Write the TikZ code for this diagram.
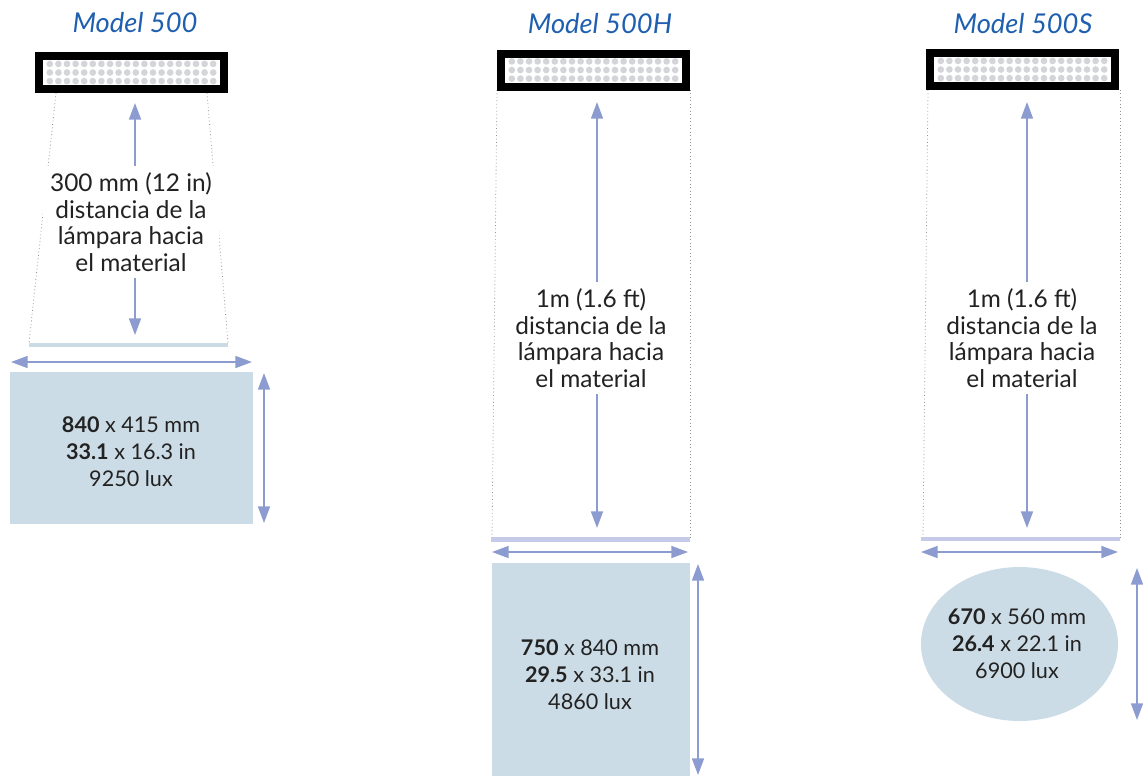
\documentclass[tikz,border=0pt]{standalone}
\usepackage{fontspec}
\setmainfont{Lato}
\usetikzlibrary{arrows.meta}
\definecolor{arr}{HTML}{8C9BD0}
\definecolor{spot}{HTML}{CCDCE6}
\definecolor{barA}{HTML}{CBDBE5}
\definecolor{barB}{HTML}{C4CAE8}
\definecolor{led}{HTML}{D3D5D8}
\definecolor{ttl}{HTML}{1E5FAF}
\definecolor{txt}{HTML}{222222}
\tikzset{
 dim/.style={draw=arr, line width=1.2pt, {Triangle[length=12.5pt,width=9pt]}-{Triangle[length=12.5pt,width=9pt]}},
 guide/.style={draw=gray!85, dotted, line width=0.6pt},
 ttlstyle/.style={font=\fontsize{20.5}{24}\selectfont\itshape, text=ttl, inner sep=0pt},
 dist/.style={fill=white, align=center, font=\fontsize{18.3}{19.9}\selectfont, text=txt, inner xsep=5pt, inner ysep=5pt},
 spec/.style={align=center, font=\fontsize{16.2}{20.25}\selectfont, text=txt, inner sep=0pt},
 lampbox/.style={draw=black, line width=6pt, fill=white, minimum width=138.75pt, minimum height=24.75pt, inner sep=0pt},
}
\newcommand{\leds}[1]{%
  \foreach \i in {0,...,19} \foreach \j in {-1,0,1}
    \fill[led] ([shift={(-81.7+\i*8.6,\j*8.6)}]#1.center) circle[radius=2.5pt];}
\begin{document}
\begin{tikzpicture}[x=0.75pt,y=-0.75pt]
\useasboundingbox (0,0) rectangle (1143,776);
% ---------- coordinates ----------
\coordinate (gA1) at (56,93);   \coordinate (gA2) at (29,343);
\coordinate (gA3) at (207,93);  \coordinate (gA4) at (228,343);
\coordinate (gH1) at (497,90);  \coordinate (gH2) at (492,538);
\coordinate (gH3) at (690,90);  \coordinate (gH4) at (690,538);
\coordinate (gS1) at (928,90);  \coordinate (gS2) at (923,538);
\coordinate (gS3) at (1120,90); \coordinate (gS4) at (1120,538);
\coordinate (dAt) at (135,103); \coordinate (dAb) at (135,335);
\coordinate (dHt) at (597,102); \coordinate (dHb) at (597,528);
\coordinate (dSt) at (1027,102); \coordinate (dSb) at (1027,528);
\coordinate (wAl) at (11,362);  \coordinate (wAr) at (252,362);
\coordinate (wHl) at (492,552); \coordinate (wHr) at (688,552);
\coordinate (wSl) at (921,552); \coordinate (wSr) at (1118,552);
\coordinate (hAt) at (264,373); \coordinate (hAb) at (264,523);
\coordinate (hHt) at (698,564); \coordinate (hHb) at (698,775);
\coordinate (hSt) at (1137,568); \coordinate (hSb) at (1137,720);
% ---------- guides ----------
\draw[guide] (gA1) -- (gA2); \draw[guide] (gA3) -- (gA4);
\draw[guide] (gH1) -- (gH2); \draw[guide] (gH3) -- (gH4);
\draw[guide] (gS1) -- (gS2); \draw[guide] (gS3) -- (gS4);
% ---------- material bars ----------
\fill[barA] (29,343) rectangle (228,347);
\fill[barB] (491,537) rectangle (690,542);
\fill[barB] (921,537) rectangle (1120,541);
% ---------- spots ----------
\fill[spot] (10,372) rectangle (253,524);
\fill[spot] (492,563) rectangle (690,776);
\fill[spot] (1019.5,644) ellipse [x radius=73.9pt, y radius=57.75pt];
% ---------- dimension arrows ----------
\draw[dim] (dAt) -- (dAb);
\draw[dim] (dHt) -- (dHb);
\draw[dim] (dSt) -- (dSb);
\draw[dim] (wAl) -- (wAr);
\draw[dim] (wHl) -- (wHr);
\draw[dim] (wSl) -- (wSr);
\draw[dim] (hAt) -- (hAb);
\draw[dim] (hHt) -- (hHb);
\draw[dim] (hSt) -- (hSb);
% ---------- distance labels ----------
\node[dist] (distA) at (131,222) {300 mm (12 in)\\distancia de la\\lámpara hacia\\el material};
\node[dist] (distH) at (591,338) {1m (1.6 ft)\\distancia de la\\lámpara hacia\\el material};
\node[dist] (distS) at (1022,338) {1m (1.6 ft)\\distancia de la\\lámpara hacia\\el material};
% ---------- spec labels ----------
\node[spec] (specA) at (131,452) {\textbf{840} x 415 mm\\\textbf{33.1} x 16.3 in\\9250 lux};
\node[spec] (specH) at (590,675) {\textbf{750} x 840 mm\\\textbf{29.5} x 33.1 in\\4860 lux};
\node[spec] (specS) at (1017,644) {\textbf{670} x 560 mm\\\textbf{26.4} x 22.1 in\\6900 lux};
% ---------- lamps ----------
\node[lampbox] (lampA) at (131.5,72.5) {};
\node[lampbox] (lampH) at (593.5,70) {};
\node[lampbox] (lampS) at (1022.5,69.5) {};
\leds{lampA}\leds{lampH}\leds{lampS}
% ---------- titles ----------
\node[ttlstyle] (tA) at (135,23) {Model 500};
\node[ttlstyle] (tH) at (600,24) {Model 500H};
\node[ttlstyle] (tS) at (1023,24) {Model 500S};
\end{tikzpicture}
\end{document}
